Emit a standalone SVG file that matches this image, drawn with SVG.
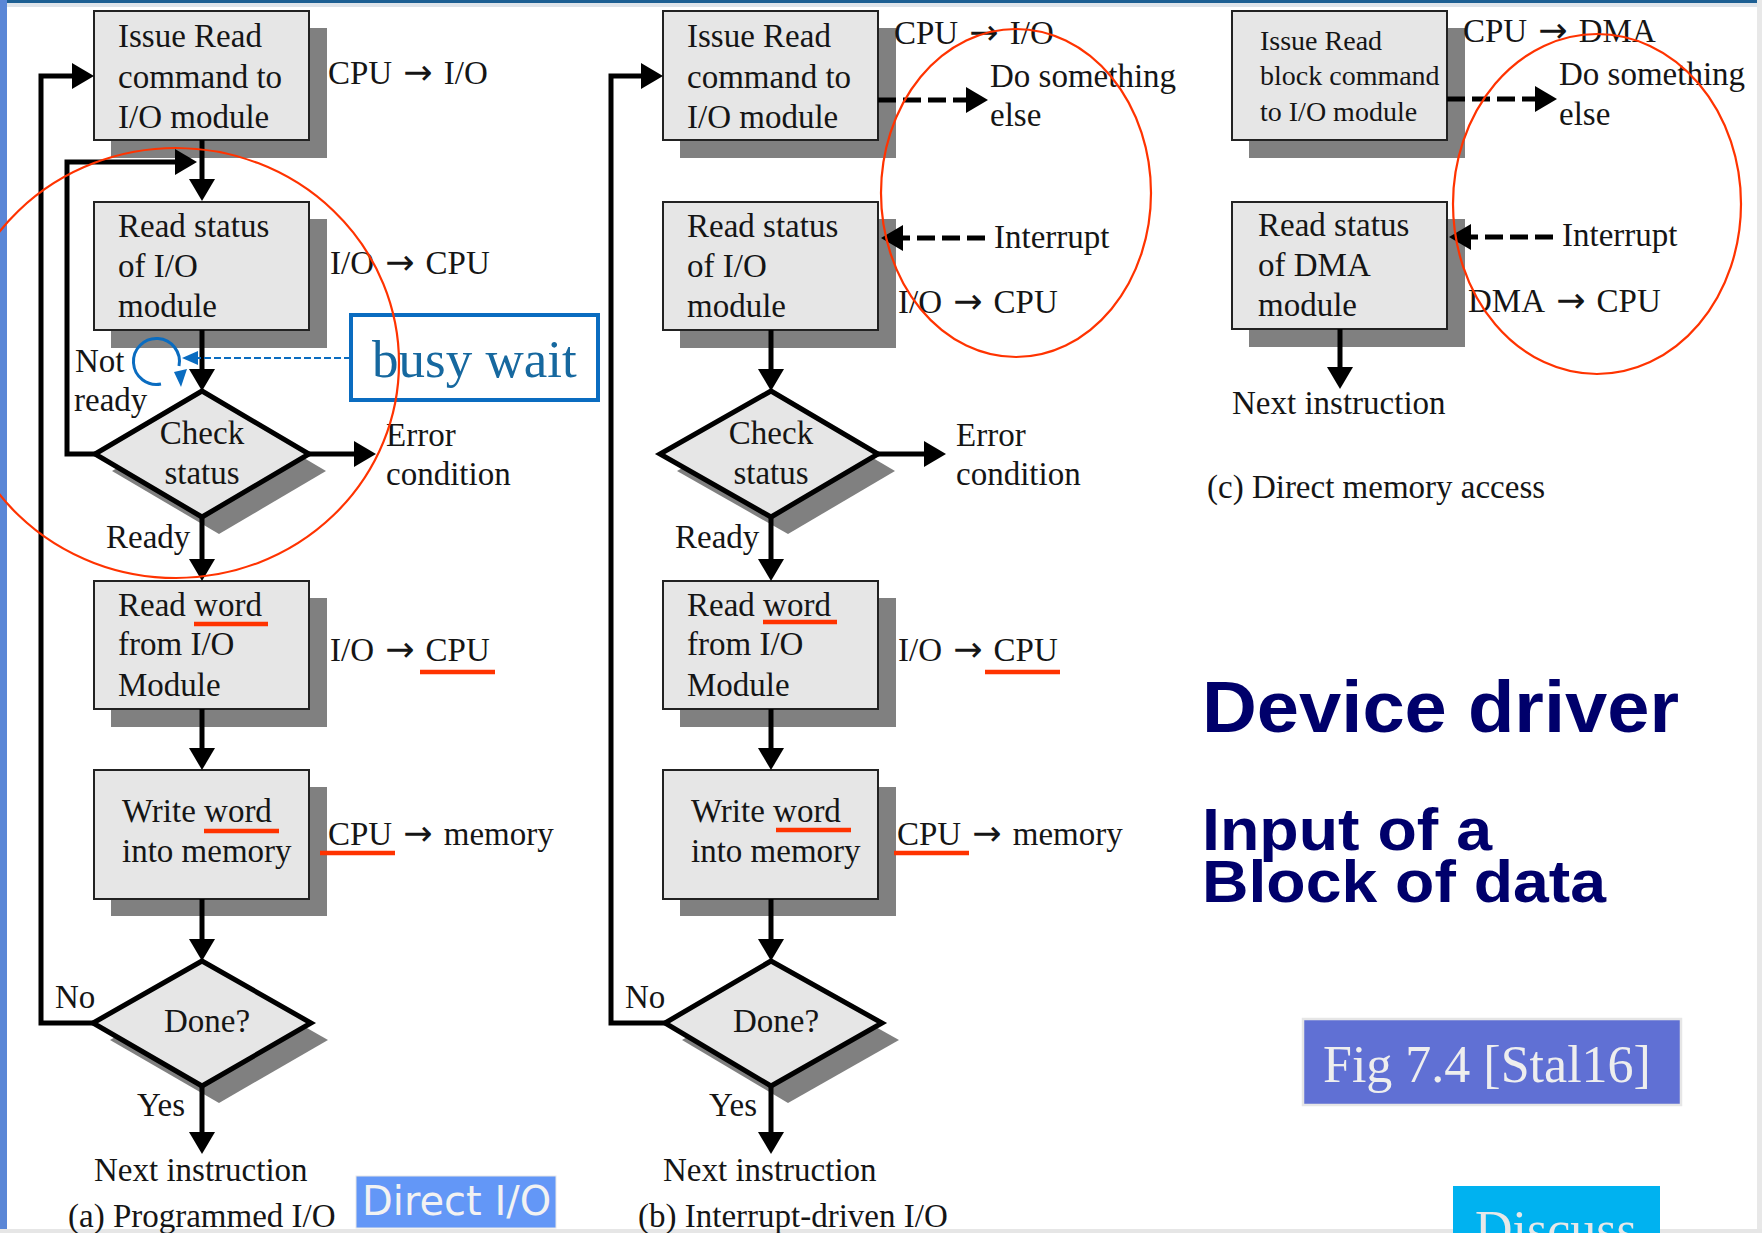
<svg xmlns="http://www.w3.org/2000/svg" width="1762" height="1233" viewBox="0 0 1762 1233">
<style>
.t{font-family:"Liberation Serif","Times New Roman",serif;font-size:33px;fill:#151515}
.ts{font-size:28px}
.ar{font-family:"DejaVu Sans",sans-serif;font-size:35px;font-weight:normal}
.box{fill:#e6e6e6;stroke:#222;stroke-width:2}
.sh{fill:#808080}
.dia{fill:#e6e6e6;stroke:#000;stroke-width:5;stroke-linejoin:miter}
.ln{fill:none;stroke:#000;stroke-width:5}
.dash{fill:none;stroke:#000;stroke-width:5;stroke-dasharray:18 7}
.red{fill:none;stroke:#ff3300;stroke-width:2.2}
.ul{stroke:#ff3300;stroke-width:4.5}
.h{font-family:"Liberation Sans",Arial,sans-serif;font-weight:bold;fill:#00006b}
</style>
<defs>
<marker id="ah" markerUnits="userSpaceOnUse" viewBox="0 0 22 26" markerWidth="22" markerHeight="26" refX="0" refY="13" orient="auto">
<path d="M0,0 L22,13 L0,26 Z" fill="#000"/>
</marker>
</defs>
<g id="frame">
<rect x="0" y="0" width="1762" height="1233" fill="#ffffff"/>
<rect x="0" y="0" width="1762" height="3" fill="#1d5f93"/>
<rect x="0" y="3" width="1762" height="4" fill="#dfe4ea"/>
<rect x="0" y="0" width="7" height="1233" fill="#5a86d6"/>
<rect x="1757" y="0" width="5" height="1233" fill="#e8e8e8"/>
<rect x="0" y="1229" width="1762" height="4" fill="#e6e6e6"/>
</g>

<!-- Column (a) -->
<g id="a-issue">
<rect class="sh" x="111" y="28" width="216" height="130"/>
<rect class="box" x="94" y="11" width="215" height="129"/>
<text class="t" x="118" y="47">Issue Read</text>
<text class="t" x="118" y="88">command to</text>
<text class="t" x="118" y="128">I/O module</text>
</g>
<g id="a-status">
<rect class="sh" x="111" y="219" width="216" height="129"/>
<rect class="box" x="94" y="202" width="215" height="128"/>
<text class="t" x="118" y="237">Read status</text>
<text class="t" x="118" y="277">of I/O</text>
<text class="t" x="118" y="317">module</text>
</g>
<g id="a-check">
<polygon class="sh" points="219,408 326,471 219,534 112,471"/>
<polygon class="dia" points="202,391 309,454 202,517 95,454"/>
<text class="t" x="202" y="444" text-anchor="middle">Check</text>
<text class="t" x="202" y="484" text-anchor="middle">status</text>
</g>
<g id="a-readword">
<rect class="sh" x="111" y="598" width="216" height="129"/>
<rect class="box" x="94" y="581" width="215" height="128"/>
<text class="t" x="118" y="616">Read word</text>
<text class="t" x="118" y="655">from I/O</text>
<text class="t" x="118" y="696">Module</text>
</g>
<g id="a-writeword">
<rect class="sh" x="111" y="787" width="216" height="129"/>
<rect class="box" x="94" y="770" width="215" height="129"/>
<text class="t" x="122" y="822">Write word</text>
<text class="t" x="122" y="862">into memory</text>
</g>
<g id="a-done">
<polygon class="sh" points="219,978 328,1040 219,1103 110,1040"/>
<polygon class="dia" points="202,961 311,1023 202,1086 93,1023"/>
<text class="t" x="164" y="1032">Done?</text>
</g>

<!-- Column (b) -->
<g id="b-issue">
<rect class="sh" x="680" y="28" width="216" height="130"/>
<rect class="box" x="663" y="11" width="215" height="129"/>
<text class="t" x="687" y="47">Issue Read</text>
<text class="t" x="687" y="88">command to</text>
<text class="t" x="687" y="128">I/O module</text>
</g>
<g id="b-status">
<rect class="sh" x="680" y="219" width="216" height="129"/>
<rect class="box" x="663" y="202" width="215" height="128"/>
<text class="t" x="687" y="237">Read status</text>
<text class="t" x="687" y="277">of I/O</text>
<text class="t" x="687" y="317">module</text>
</g>
<g id="b-check">
<polygon class="sh" points="788,408 895,471 788,534 677,471"/>
<polygon class="dia" points="771,391 878,454 771,517 660,454"/>
<text class="t" x="771" y="444" text-anchor="middle">Check</text>
<text class="t" x="771" y="484" text-anchor="middle">status</text>
</g>
<g id="b-readword">
<rect class="sh" x="680" y="598" width="216" height="129"/>
<rect class="box" x="663" y="581" width="215" height="128"/>
<text class="t" x="687" y="616">Read word</text>
<text class="t" x="687" y="655">from I/O</text>
<text class="t" x="687" y="696">Module</text>
</g>
<g id="b-writeword">
<rect class="sh" x="680" y="787" width="216" height="129"/>
<rect class="box" x="663" y="770" width="215" height="129"/>
<text class="t" x="691" y="822">Write word</text>
<text class="t" x="691" y="862">into memory</text>
</g>
<g id="b-done">
<polygon class="sh" points="788,978 899,1040 788,1103 682,1040"/>
<polygon class="dia" points="771,961 882,1023 771,1086 665,1023"/>
<text class="t" x="733" y="1032">Done?</text>
</g>

<!-- Column (c) -->
<g id="c-issue">
<rect class="sh" x="1249" y="28" width="216" height="130"/>
<rect class="box" x="1232" y="11" width="215" height="129"/>
<text class="t ts" x="1260" y="50">Issue Read</text>
<text class="t ts" x="1260" y="85">block command</text>
<text class="t ts" x="1260" y="121">to I/O module</text>
</g>
<g id="c-status">
<rect class="sh" x="1249" y="219" width="216" height="128"/>
<rect class="box" x="1232" y="202" width="215" height="127"/>
<text class="t" x="1258" y="236">Read status</text>
<text class="t" x="1258" y="276">of DMA</text>
<text class="t" x="1258" y="316">module</text>
</g>

<g id="connectors">
<!-- (a) -->
<line class="ln" x1="202" y1="140" x2="202" y2="179" marker-end="url(#ah)"/>
<line class="ln" x1="202" y1="330" x2="202" y2="369" marker-end="url(#ah)"/>
<polyline class="ln" points="95,454 67,454 67,162 175,162" marker-end="url(#ah)"/>
<line class="ln" x1="309" y1="454" x2="354" y2="454" marker-end="url(#ah)"/>
<line class="ln" x1="202" y1="517" x2="202" y2="559" marker-end="url(#ah)"/>
<line class="ln" x1="202" y1="709" x2="202" y2="748" marker-end="url(#ah)"/>
<line class="ln" x1="202" y1="899" x2="202" y2="939" marker-end="url(#ah)"/>
<line class="ln" x1="202" y1="1086" x2="202" y2="1132" marker-end="url(#ah)"/>
<polyline class="ln" points="93,1023 41,1023 41,76 72,76" marker-end="url(#ah)"/>
<!-- (b) -->
<line class="dash" x1="878" y1="100" x2="966" y2="100" marker-end="url(#ah)"/>
<line class="dash" x1="985" y1="238" x2="903" y2="238" marker-end="url(#ah)"/>
<line class="ln" x1="771" y1="330" x2="771" y2="369" marker-end="url(#ah)"/>
<line class="ln" x1="878" y1="454" x2="924" y2="454" marker-end="url(#ah)"/>
<line class="ln" x1="771" y1="517" x2="771" y2="559" marker-end="url(#ah)"/>
<line class="ln" x1="771" y1="709" x2="771" y2="748" marker-end="url(#ah)"/>
<line class="ln" x1="771" y1="899" x2="771" y2="939" marker-end="url(#ah)"/>
<line class="ln" x1="771" y1="1086" x2="771" y2="1132" marker-end="url(#ah)"/>
<polyline class="ln" points="665,1023 611,1023 611,76 641,76" marker-end="url(#ah)"/>
<!-- (c) -->
<line class="dash" x1="1447" y1="99" x2="1535" y2="99" marker-end="url(#ah)"/>
<line class="dash" x1="1553" y1="237" x2="1471" y2="237" marker-end="url(#ah)"/>
<line class="ln" x1="1340" y1="329" x2="1340" y2="367" marker-end="url(#ah)"/>
<!-- busy wait pointer -->
<line x1="351" y1="358" x2="197" y2="358" stroke="#0a6cc0" stroke-width="2" stroke-dasharray="7 3"/>
<polygon points="182,358 198,351 198,365" fill="#0a6cc0"/>
<path d="M161,384 A23,23 0 1 1 179,366" fill="none" stroke="#0a6cc0" stroke-width="3"/>
<polygon points="174,372 187,369 181,387" fill="#0a6cc0"/>
</g>

<g id="labels">
<text class="t" x="328" y="84">CPU<tspan class="ar"> → </tspan>I/O</text>
<text class="t" x="330" y="274">I/O<tspan class="ar"> → </tspan>CPU</text>
<text class="t" x="75" y="372">Not</text>
<text class="t" x="74" y="411">ready</text>
<text class="t" x="386" y="446">Error</text>
<text class="t" x="386" y="485">condition</text>
<text class="t" x="106" y="548">Ready</text>
<text class="t" x="330" y="661">I/O<tspan class="ar"> → </tspan>CPU</text>
<text class="t" x="328" y="845">CPU<tspan class="ar"> → </tspan>memory</text>
<text class="t" x="55" y="1008">No</text>
<text class="t" x="137" y="1116">Yes</text>
<text class="t" x="94" y="1181">Next instruction</text>
<text class="t" x="68" y="1227">(a) Programmed I/O</text>

<text class="t" x="894" y="44">CPU<tspan class="ar"> → </tspan>I/O</text>
<text class="t" x="990" y="87">Do something</text>
<text class="t" x="990" y="126">else</text>
<text class="t" x="994" y="248">Interrupt</text>
<text class="t" x="898" y="313">I/O<tspan class="ar"> → </tspan>CPU</text>
<text class="t" x="956" y="446">Error</text>
<text class="t" x="956" y="485">condition</text>
<text class="t" x="675" y="548">Ready</text>
<text class="t" x="898" y="661">I/O<tspan class="ar"> → </tspan>CPU</text>
<text class="t" x="897" y="845">CPU<tspan class="ar"> → </tspan>memory</text>
<text class="t" x="625" y="1008">No</text>
<text class="t" x="709" y="1116">Yes</text>
<text class="t" x="663" y="1181">Next instruction</text>
<text class="t" x="638" y="1227">(b) Interrupt-driven I/O</text>

<text class="t" x="1463" y="42">CPU<tspan class="ar"> → </tspan>DMA</text>
<text class="t" x="1559" y="85">Do something</text>
<text class="t" x="1559" y="125">else</text>
<text class="t" x="1562" y="246">Interrupt</text>
<text class="t" x="1468" y="312">DMA<tspan class="ar"> → </tspan>CPU</text>
<text class="t" x="1232" y="414">Next instruction</text>
<text class="t" x="1207" y="498">(c) Direct memory access</text>
</g>

<g id="busy-wait">
<rect x="351" y="315" width="247" height="85" fill="#ffffff" stroke="#0a6cc0" stroke-width="4"/>
<text x="372" y="377" font-family="Liberation Serif, Times New Roman, serif" font-size="53" fill="#16689f">busy wait</text>
</g>

<g id="direct-io">
<rect x="356" y="1176" width="200" height="52" fill="#6397f7" stroke="#e8e8e8" stroke-width="1"/>
<text x="362" y="1215" font-family="DejaVu Sans, sans-serif" font-size="40" fill="#f2f2f2">Direct I/O</text>
</g>

<g id="highlights">
<ellipse class="red" cx="176" cy="363" rx="223" ry="215"/>
<ellipse class="red" cx="1016" cy="193" rx="135" ry="164"/>
<ellipse class="red" cx="1597" cy="204" rx="144" ry="170"/>
<line class="ul" x1="194" y1="624" x2="268" y2="624"/>
<line class="ul" x1="420" y1="672" x2="495" y2="672"/>
<line class="ul" x1="204" y1="831" x2="279" y2="831"/>
<line class="ul" x1="320" y1="853" x2="395" y2="853"/>
<line class="ul" x1="763" y1="622" x2="837" y2="622"/>
<line class="ul" x1="985" y1="672" x2="1060" y2="672"/>
<line class="ul" x1="776" y1="830" x2="851" y2="830"/>
<line class="ul" x1="894" y1="853" x2="969" y2="853"/>
</g>

<g id="title">
<text class="h" x="1202" y="732" font-size="72" textLength="477" lengthAdjust="spacingAndGlyphs">Device driver</text>
<text class="h" x="1202" y="850" font-size="60" textLength="290" lengthAdjust="spacingAndGlyphs">Input of a</text>
<text class="h" x="1202" y="902" font-size="60" textLength="404" lengthAdjust="spacingAndGlyphs">Block of data</text>
</g>

<g id="fig-ref">
<rect x="1303" y="1019" width="378" height="86" fill="#6070d4" stroke="#e6e6e6" stroke-width="2.5"/>
<text x="1323" y="1082" font-family="Liberation Serif, Times New Roman, serif" font-size="52" fill="#eeeeee">Fig 7.4 [Stal16]</text>
</g>

<g id="discuss">
<rect x="1453" y="1186" width="207" height="47" fill="#00b2f0"/>
<text x="1475" y="1247" font-family="Liberation Serif, Times New Roman, serif" font-size="52" fill="#e8e8e8">Discuss</text>
</g>
</svg>
